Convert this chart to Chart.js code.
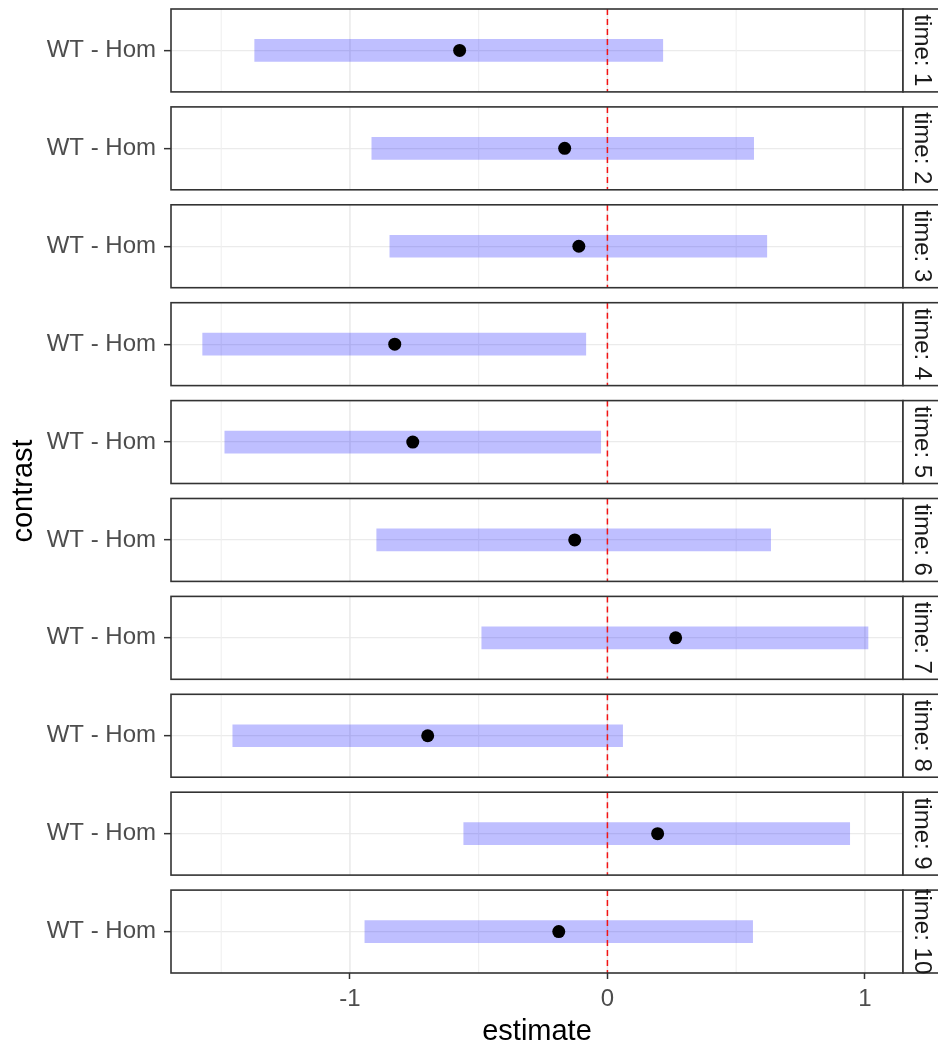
<!DOCTYPE html>
<html>
<head>
<meta charset="utf-8">
<title>WT - Hom contrasts by time</title>
<script src="https://cdn.jsdelivr.net/npm/chart.js@4.4.1/dist/chart.umd.min.js"></script>
<style>
  html, body { margin: 0; padding: 0; background: #ffffff; }
  #wrap { width: 938px; height: 1047px; }
</style>
</head>
<body>
<div id="wrap"><canvas id="chart" width="938" height="1047"></canvas></div>
<script>
// Contrast estimates with confidence intervals, one facet per time point
const contrast = 'WT - Hom';
const times    = [1, 2, 3, 4, 5, 6, 7, 8, 9, 10];
const estimate = [-0.574, -0.166, -0.111, -0.826, -0.756, -0.127, 0.265, -0.698, 0.195, -0.189];
const lower    = [-1.370, -0.915, -0.845, -1.572, -1.486, -0.896, -0.488, -1.455, -0.558, -0.942];
const upper    = [ 0.215,  0.568,  0.619, -0.084, -0.026,  0.634,  1.012,  0.059,  0.941,  0.564];
const xTicks      = [-1, 0, 1];
const xMinorGrid  = [-1.5, -0.5, 0.5];
const referenceValue = 0;
const stripPrefix = 'time: ';

const FONT = "'Liberation Sans', Arial, 'DejaVu Sans', sans-serif";
const PANEL_HALF = 0.4234;      // half height of a facet panel, in y units
const BORDER = '#333333';

const intervals = times.map((t, i) => ({ x: [lower[i], upper[i]], y: t }));
const points    = times.map((t, i) => ({ x: estimate[i], y: t }));

const facetPanels = {
  id: 'facetPanels',
  beforeDatasetsDraw(chart) {
    const { ctx, scales: { x, y } } = chart;
    ctx.save();
    times.forEach(t => {
      const top = y.getPixelForValue(t - PANEL_HALF);
      const bottom = y.getPixelForValue(t + PANEL_HALF);
      ctx.lineWidth = 1.1;
      ctx.strokeStyle = '#EFEFEF';
      xMinorGrid.forEach(v => {
        const px = x.getPixelForValue(v);
        ctx.beginPath(); ctx.moveTo(px, top); ctx.lineTo(px, bottom); ctx.stroke();
      });
      ctx.lineWidth = 1.4;
      ctx.strokeStyle = '#E8E8E8';
      xTicks.forEach(v => {
        const px = x.getPixelForValue(v);
        ctx.beginPath(); ctx.moveTo(px, top); ctx.lineTo(px, bottom); ctx.stroke();
      });
    });
    ctx.restore();
  },
  afterDatasetsDraw(chart) {
    const { ctx, chartArea: a, scales: { x, y } } = chart;
    ctx.save();
    times.forEach(t => {
      const top = y.getPixelForValue(t - PANEL_HALF);
      const bottom = y.getPixelForValue(t + PANEL_HALF);
      // dashed reference line at zero
      const rx = x.getPixelForValue(referenceValue);
      ctx.setLineDash([6, 4]);
      ctx.lineWidth = 1.5;
      ctx.strokeStyle = '#F41414';
      ctx.beginPath(); ctx.moveTo(rx, top); ctx.lineTo(rx, bottom); ctx.stroke();
      ctx.setLineDash([]);
      // panel border
      ctx.lineWidth = 1.6;
      ctx.strokeStyle = BORDER;
      ctx.strokeRect(a.left, top, a.right - a.left, bottom - top);
    });
    ctx.restore();
  },
  afterDraw(chart) {
    const { ctx, chartArea: a, scales: { y } } = chart;
    ctx.save();
    times.forEach(t => {
      const top = y.getPixelForValue(t - PANEL_HALF);
      const bottom = y.getPixelForValue(t + PANEL_HALF);
      ctx.fillStyle = '#ffffff';
      ctx.fillRect(a.right, top, 40, bottom - top);
      ctx.lineWidth = 1.6;
      ctx.strokeStyle = BORDER;
      ctx.strokeRect(a.right, top, 40, bottom - top);
      ctx.save();
      ctx.translate(a.right + 19, (top + bottom) / 2);
      ctx.rotate(Math.PI / 2);
      ctx.fillStyle = '#1A1A1A';
      ctx.font = '24px ' + FONT;
      ctx.textAlign = 'center';
      ctx.textBaseline = 'middle';
      ctx.fillText(stripPrefix + t, 0, 0);
      ctx.restore();
    });
    ctx.restore();
  }
};

new Chart(document.getElementById('chart'), {
  type: 'bar',
  data: {
    datasets: [
      {
        type: 'scatter',
        data: points,
        pointRadius: 6.5,
        pointBackgroundColor: '#000000',
        pointBorderWidth: 0,
        order: 1
      },
      {
        type: 'bar',
        indexAxis: 'y',
        data: intervals,
        backgroundColor: 'rgba(0, 0, 255, 0.25)',
        borderWidth: 0,
        barThickness: 22,
        order: 2
      }
    ]
  },
  options: {
    responsive: false,
    animation: false,
    events: [],
    layout: { padding: { left: 0, right: 35, top: 9, bottom: 0 } },
    plugins: { legend: { display: false }, tooltip: { enabled: false } },
    scales: {
      x: {
        type: 'linear',
        position: 'bottom',
        offset: false,
        beginAtZero: false,
        min: -1.695,
        max: 1.148,
        afterBuildTicks: s => { s.ticks = xTicks.map(v => ({ value: v })); },
        afterFit: s => { s.height = 74; s.paddingLeft = 0; s.paddingRight = 0; },
        border: { display: false },
        grid: {
          offset: false,
          drawOnChartArea: false,
          drawTicks: true,
          tickLength: 6,
          tickColor: BORDER,
          tickWidth: 1.5
        },
        ticks: {
          padding: 6,
          color: '#4D4D4D',
          font: { family: FONT, size: 24 },
          callback: v => String(v)
        },
        title: {
          display: true,
          text: 'estimate',
          color: '#000000',
          font: { family: FONT, size: 29, lineHeight: 1 },
          padding: { top: 0, bottom: 1 }
        }
      },
      y: {
        type: 'linear',
        position: 'left',
        reverse: true,
        offset: false,
        beginAtZero: false,
        min: times[0] - PANEL_HALF,
        max: times[times.length - 1] + PANEL_HALF,
        afterBuildTicks: s => { s.ticks = times.map(v => ({ value: v })); },
        afterFit: s => { s.width = 171; s.paddingTop = 0; s.paddingBottom = 0; },
        border: { display: false },
        grid: {
          offset: false,
          color: '#EBEBEB',
          lineWidth: 1.3,
          drawTicks: true,
          tickLength: 7,
          tickColor: BORDER,
          tickWidth: 1.5
        },
        ticks: {
          padding: 8,
          color: '#4D4D4D',
          font: { family: FONT, size: 24 },
          callback: () => contrast
        },
        title: {
          display: true,
          text: 'contrast',
          color: '#000000',
          font: { family: FONT, size: 29 },
          padding: { top: 7, bottom: 0 }
        }
      }
    }
  },
  plugins: [facetPanels]
});
</script>
</body>
</html>
